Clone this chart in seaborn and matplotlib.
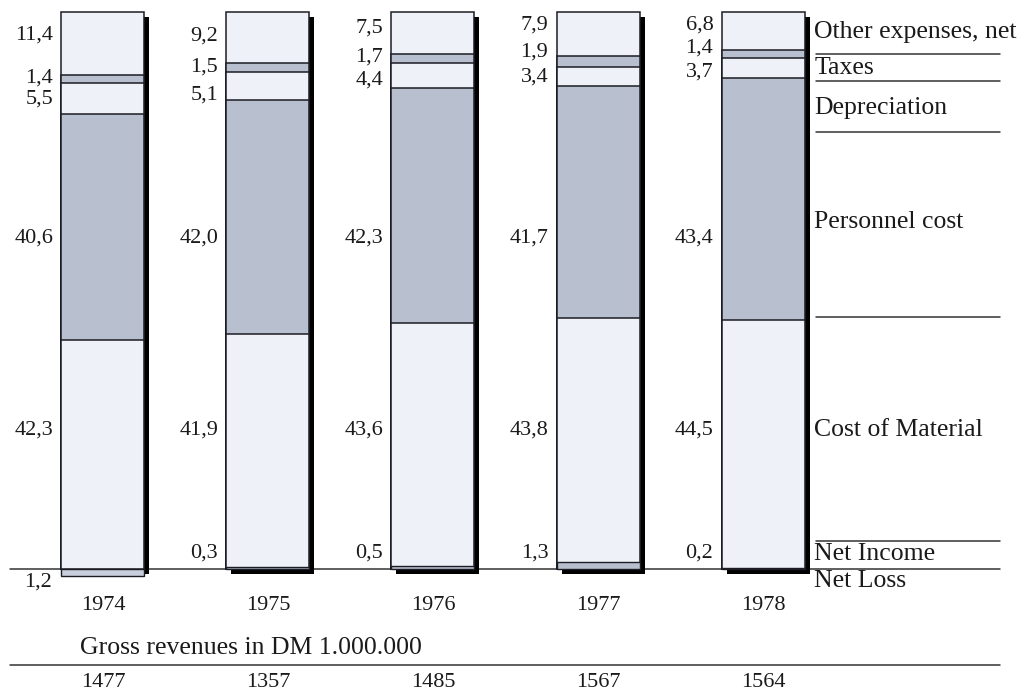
import matplotlib
matplotlib.use("Agg")
import matplotlib.pyplot as plt
import matplotlib.patheffects as pe
import seaborn as sns

# --- data (percent of gross revenues) ---
years = ["1974", "1975", "1976", "1977", "1978"]
net_result = [-1.2, 0.3, 0.5, 1.3, 0.2]        # negative = net loss
material = [42.3, 41.9, 43.6, 43.8, 44.5]
personnel = [40.6, 42.0, 42.3, 41.7, 43.4]
depreciation = [5.5, 5.1, 4.4, 3.4, 3.7]
taxes = [1.4, 1.5, 1.7, 1.9, 1.4]
other = [11.4, 9.2, 7.5, 7.9, 6.8]
revenues = [1477, 1357, 1485, 1567, 1564]      # DM 1.000.000

category_labels = ["Other expenses, net", "Taxes", "Depreciation",
                   "Personnel cost", "Cost of Material", "Net Income", "Net Loss"]

# --- layout ---
LIGHT = "#eef1f8"
DARK = "#b8c0cf"
LOSS = "#c8cedb"
EDGE = "#1c1c24"
BAR_W = 0.503
FONT = ["Liberation Serif", "DejaVu Serif"]

# label heights (data units) for the three thin top segments: other, taxes, depreciation
top_label_y = [[95.9, 88.2, 84.4],
               [95.7, 90.1, 85.1],
               [97.1, 91.9, 87.8],
               [97.7, 92.8, 88.3],
               [97.7, 93.5, 89.2]]
personnel_label_y = 59.5
material_label_y = 25.0
income_label_y = 2.9
loss_label_y = -2.3

sns.set_theme(style="white")
plt.rcParams["font.family"] = FONT

fig = plt.figure(figsize=(10.31, 6.95), dpi=100)
ax = fig.add_axes([0, 0, 1, 1])

def fmt(v):
    return f"{abs(v):.1f}".replace(".", ",")

# cumulative tops of each segment, stacked from the net result level
tops_material = [n + m for n, m in zip(net_result, material)]
tops_personnel = [t + p for t, p in zip(tops_material, personnel)]
tops_dep = [t + d for t, d in zip(tops_personnel, depreciation)]
tops_taxes = [t + x for t, x in zip(tops_dep, taxes)]
tops_other = [t + o for t, o in zip(tops_taxes, other)]
tops_material_pos = [max(t, 0) for t in tops_material]

shadow = [pe.SimplePatchShadow(offset=(3.6, -3.6), shadow_rgbFace="black", alpha=1.0),
          pe.Normal()]

layers = [(tops_other, LIGHT), (tops_taxes, DARK), (tops_dep, LIGHT),
          (tops_personnel, DARK), (tops_material_pos, LIGHT)]

for i, (heights, col) in enumerate(layers):
    sns.barplot(x=years, y=heights, color=col, saturation=1, width=BAR_W,
                edgecolor=EDGE, linewidth=1.1, ax=ax, zorder=3)
    if i == 0:
        for patch in ax.containers[-1]:
            patch.set_path_effects(shadow)

# net income band (above zero) / net loss band (below zero)
net_colors = [LOSS if v < 0 else DARK for v in net_result]
sns.barplot(x=years, y=net_result, hue=years, palette=net_colors, saturation=1,
            width=BAR_W, edgecolor=EDGE, linewidth=1.0, legend=False, ax=ax, zorder=3)
for patch, v in zip(ax.containers[-1], net_result):
    if v < 0:
        patch.set_path_effects(shadow)

ax.set_xlim(-0.624, 5.624)
ax.set_ylim(-22.62, 102.15)
ax.axis("off")

# baseline and separators
line_kw = dict(color="#333333", linewidth=1.1, zorder=1)
ax.plot([-0.564, 5.436], [0, 0], **line_kw)
ax.plot([-0.564, 5.436], [-17.24, -17.24], **line_kw)
for y in [92.5, 87.6, 78.5, 45.2, 5.0]:
    ax.plot([4.321, 5.436], [y, y], **line_kw)

# category labels on the right
right_label_y = [96.4, 89.9, 82.8, 62.3, 25.0, 2.7, -2.15]
for txt, y in zip(category_labels, right_label_y):
    ax.text(4.31, y, txt, ha="left", va="center", fontsize=18.5, color="#1a1a1a")

# value labels left of each bar
gap = 0.05
for i, yr in enumerate(years):
    xl = i - BAR_W / 2 - gap
    kw = dict(ha="right", va="center", fontsize=16, color="#1a1a1a")
    ty = top_label_y[i]
    ax.text(xl, ty[0], fmt(other[i]), **kw)
    ax.text(xl, ty[1], fmt(taxes[i]), **kw)
    ax.text(xl, ty[2], fmt(depreciation[i]), **kw)
    ax.text(xl, personnel_label_y, fmt(personnel[i]), **kw)
    ax.text(xl, material_label_y, fmt(material[i]), **kw)
    if net_result[i] < 0:
        ax.text(xl - 0.01, loss_label_y, fmt(net_result[i]), **kw)
    else:
        ax.text(xl, income_label_y, fmt(net_result[i]), **kw)
    ax.text(i, -6.5, yr, ha="center", va="center", fontsize=16, color="#1a1a1a")
    ax.text(i, -20.3, str(revenues[i]), ha="center", va="center", fontsize=16,
            color="#1a1a1a")

ax.text(-0.139, -14.18, "Gross revenues in DM 1.000.000", ha="left", va="center",
        fontsize=18.5, color="#1a1a1a")

fig.savefig("out.png", dpi=100, facecolor="white")
